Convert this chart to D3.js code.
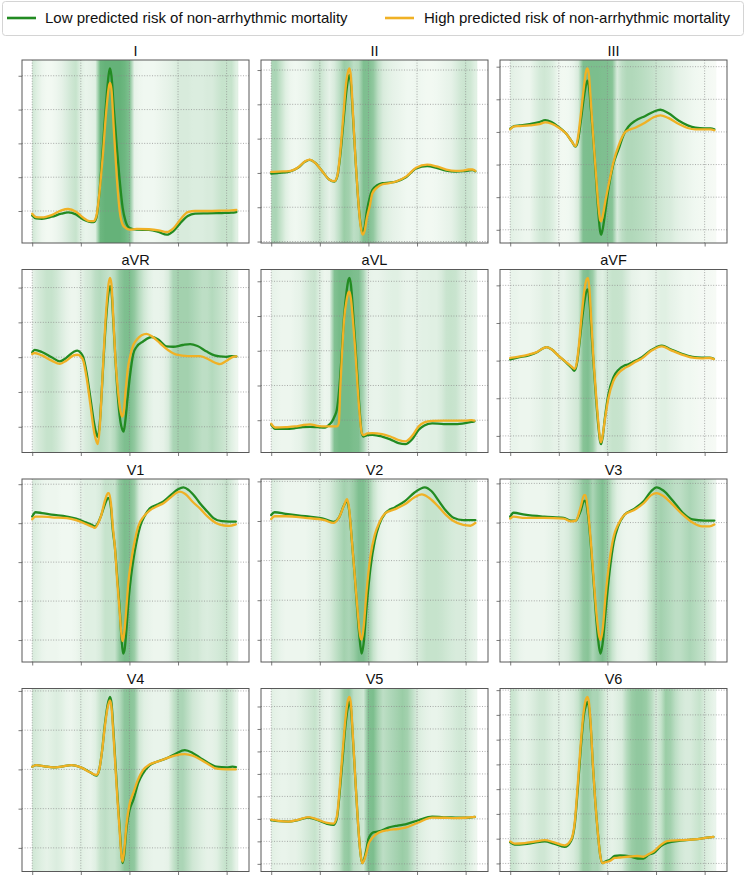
<!DOCTYPE html>
<html><head><meta charset="utf-8">
<script src="https://cdn.jsdelivr.net/npm/d3@7"></script>
<style>body{margin:0;background:#fff}svg{display:block;font-family:"Liberation Sans",Arial,Helvetica,sans-serif}</style>
</head><body><svg id="c" width="746" height="877"></svg>
<script>
const leads = ["I","II","III","aVR","aVL","aVF","V1","V2","V3","V4","V5","V6"];
const seriesNames = ["Low predicted risk of non-arrhythmic mortality","High predicted risk of non-arrhythmic mortality"];
const xTicks = [0,100,200,300,400];
const heatStep = 10;

// ---- Lead I ----
const low_I = [[0,-0.13],[8,-0.22],[20,-0.23],[40,-0.17],[60,-0.08],[74,-0.04],[90,-0.1],[105,-0.25],[118,-0.32],[126,-0.33],[132,-0.2],[138,0.5],[145,1.8],[152,3.2],[158,4.1],[160,4.22],[163,4.0],[168,3.0],[174,1.9],[180,0.9],[186,0.1],[192,-0.3],[200,-0.5],[215,-0.55],[240,-0.56],[260,-0.62],[277,-0.7],[290,-0.6],[305,-0.35],[320,-0.15],[335,-0.08],[360,-0.07],[390,-0.06],[410,-0.05],[420,-0.03]];
const high_I = [[0,-0.08],[8,-0.18],[20,-0.19],[40,-0.12],[60,0.02],[74,0.06],[90,-0.02],[105,-0.2],[118,-0.3],[126,-0.3],[132,-0.15],[138,0.5],[145,1.6],[152,2.9],[158,3.7],[160,3.79],[163,3.6],[168,2.4],[174,1.0],[180,0.0],[186,-0.4],[192,-0.5],[200,-0.55],[215,-0.53],[240,-0.54],[260,-0.57],[277,-0.62],[290,-0.52],[305,-0.25],[320,-0.03],[335,0.0],[360,0.0],[390,0.01],[410,0.02],[420,0.03]];
const heat_I = [0.25,0.15,0.08,0.05,0.05,0.08,0.12,0.18,0.25,0.3,0.15,0.1,0.12,0.15,0.8,0.85,0.85,0.85,0.85,0.8,0.7,0.12,0.08,0.06,0.06,0.06,0.08,0.1,0.12,0.15,0.2,0.2,0.2,0.18,0.18,0.18,0.2,0.2,0.25,0.3,0.3,0.3,0.15];
const yt_I = [0,1,2,3,4];

// ---- Lead II ----
const low_II = [[0,-0.02],[15,0.0],[36,0.03],[55,0.15],[70,0.33],[79,0.38],[90,0.3],[105,0.05],[120,-0.2],[130,-0.25],[136,-0.1],[142,0.5],[148,1.4],[154,2.3],[159,2.8],[161,2.85],[164,2.6],[168,1.7],[173,0.5],[178,-0.6],[183,-1.4],[188,-1.75],[192,-1.6],[197,-1.1],[203,-0.7],[208,-0.5],[218,-0.36],[229,-0.3],[243,-0.28],[257,-0.25],[278,-0.12],[298,0.13],[321,0.2],[340,0.15],[360,0.07],[379,0.04],[395,0.05],[406,0.07],[414,0.08],[420,0.05]];
const high_II = [[0,0.03],[15,0.04],[36,0.05],[55,0.16],[70,0.34],[79,0.39],[90,0.3],[105,0.05],[120,-0.2],[130,-0.24],[136,-0.08],[142,0.6],[148,1.6],[154,2.6],[159,3.0],[161,3.05],[164,2.8],[168,1.8],[173,0.5],[178,-0.6],[183,-1.45],[188,-1.8],[192,-1.7],[197,-1.3],[203,-0.95],[208,-0.6],[218,-0.42],[229,-0.33],[243,-0.3],[257,-0.25],[278,-0.1],[298,0.15],[321,0.24],[340,0.19],[360,0.1],[379,0.06],[395,0.07],[406,0.1],[414,0.1],[420,0.06]];
const heat_II = [0.45,0.45,0.3,0.15,0.08,0.06,0.08,0.1,0.15,0.25,0.3,0.2,0.12,0.2,0.35,0.55,0.5,0.35,0.4,0.7,0.7,0.6,0.35,0.2,0.15,0.12,0.1,0.08,0.06,0.06,0.08,0.06,0.05,0.05,0.06,0.08,0.1,0.12,0.18,0.25,0.28,0.25,0.15];
const yt_II = [-2,-1,0,1,2,3];

// ---- Lead III ----
const low_III = [[0,0.1],[8,0.18],[20,0.2],[40,0.24],[60,0.3],[72,0.36],[85,0.3],[100,0.15],[115,-0.05],[127,-0.3],[134,-0.45],[139,-0.3],[145,0.3],[151,1.0],[156,1.45],[159,1.57],[162,1.4],[166,0.7],[171,-0.22],[176,-1.3],[181,-2.4],[185,-3.05],[187,-3.15],[190,-3.0],[196,-2.4],[202,-1.76],[212,-1.0],[223,-0.53],[233,-0.1],[243,0.16],[257,0.34],[278,0.49],[295,0.62],[309,0.68],[325,0.58],[347,0.34],[365,0.2],[381,0.13],[400,0.11],[412,0.11],[420,0.08]];
const high_III = [[0,0.08],[8,0.17],[20,0.18],[40,0.2],[60,0.24],[72,0.29],[85,0.25],[100,0.13],[115,-0.05],[127,-0.3],[134,-0.44],[139,-0.2],[145,0.5],[151,1.3],[156,1.85],[159,1.95],[162,1.75],[166,0.9],[171,-0.2],[176,-1.2],[181,-2.2],[185,-2.7],[187,-2.74],[190,-2.6],[196,-2.1],[202,-1.65],[212,-0.95],[223,-0.42],[237,0.0],[257,0.13],[278,0.29],[295,0.45],[309,0.51],[325,0.43],[347,0.24],[365,0.12],[381,0.08],[400,0.08],[412,0.08],[420,0.05]];
const heat_III = [0.15,0.12,0.1,0.08,0.08,0.15,0.22,0.25,0.22,0.15,0.06,0.05,0.06,0.1,0.2,0.7,0.72,0.72,0.72,0.7,0.7,0.65,0.2,0.35,0.42,0.42,0.4,0.38,0.35,0.32,0.28,0.25,0.22,0.2,0.15,0.12,0.1,0.08,0.06,0.05,0.05,0.04,0.03];
const yt_III = [-3,-2,-1,0,1,2];

// ---- Lead aVR ----
const low_aVR = [[0,0.14],[5,0.21],[20,0.15],[40,0.0],[57,-0.12],[70,-0.02],[85,0.15],[93,0.19],[100,0.12],[105,0.0],[112,-0.45],[120,-1.2],[128,-1.95],[133,-2.25],[135,-2.29],[139,-1.9],[143,-1.0],[147,0.0],[152,1.1],[157,1.85],[160,2.04],[163,1.9],[167,1.0],[171,0.0],[176,-1.1],[181,-1.8],[186,-2.1],[188,-2.14],[191,-1.9],[196,-1.2],[201,-0.55],[208,0.1],[215,0.3],[228,0.45],[246,0.58],[260,0.5],[276,0.31],[290,0.3],[310,0.35],[325,0.375],[340,0.32],[359,0.16],[375,0.05],[386,0.02],[400,0.01],[410,0.03],[420,0.02]];
const high_aVR = [[0,0.09],[5,0.12],[20,0.05],[40,-0.1],[57,-0.19],[70,-0.1],[85,0.05],[93,0.07],[100,0.02],[105,-0.1],[112,-0.6],[120,-1.4],[128,-2.2],[133,-2.45],[135,-2.5],[139,-2.0],[143,-1.0],[147,0.1],[152,1.3],[157,2.1],[160,2.28],[163,2.1],[167,1.1],[171,0.0],[176,-0.9],[181,-1.5],[185,-1.71],[188,-1.6],[192,-1.0],[197,-0.3],[201,0.0],[208,0.35],[215,0.5],[225,0.63],[235,0.67],[248,0.58],[263,0.4],[280,0.2],[297,0.07],[320,0.03],[345,0.03],[365,-0.08],[380,-0.18],[386,-0.2],[400,-0.1],[412,0.0],[420,0.02]];
const heat_aVR = [0.12,0.2,0.25,0.3,0.3,0.25,0.18,0.12,0.08,0.08,0.12,0.2,0.25,0.35,0.4,0.35,0.3,0.4,0.6,0.7,0.72,0.6,0.4,0.25,0.15,0.1,0.1,0.12,0.2,0.45,0.5,0.5,0.5,0.45,0.4,0.35,0.35,0.4,0.35,0.3,0.25,0.15,0.08];
const yt_aVR = [-2,-1,0,1,2];

// ---- Lead aVL ----
const low_aVL = [[0,-0.13],[8,-0.25],[30,-0.25],[49,-0.23],[65,-0.2],[80,-0.19],[95,-0.2],[111,-0.21],[120,-0.12],[125,-0.04],[130,0.1],[135,0.3],[140,0.9],[145,1.9],[150,3.0],[155,3.7],[159,4.05],[161,4.1],[164,3.9],[168,3.2],[173,2.2],[178,1.1],[183,0.1],[186,-0.35],[190,-0.47],[198,-0.43],[208,-0.42],[228,-0.47],[245,-0.55],[262,-0.66],[276,-0.69],[290,-0.55],[303,-0.28],[315,-0.15],[331,-0.09],[355,-0.11],[379,-0.11],[400,-0.08],[412,-0.05],[418,-0.03]];
const high_aVL = [[0,-0.1],[8,-0.21],[30,-0.2],[49,-0.18],[65,-0.14],[80,-0.12],[95,-0.16],[111,-0.18],[125,-0.18],[135,-0.18],[139,-0.1],[142,0.9],[146,2.0],[150,2.9],[155,3.45],[159,3.68],[161,3.7],[164,3.5],[168,2.9],[173,2.0],[178,0.9],[183,0.0],[186,-0.35],[190,-0.43],[198,-0.38],[208,-0.37],[228,-0.4],[245,-0.47],[262,-0.57],[276,-0.61],[290,-0.45],[303,-0.18],[315,-0.06],[331,-0.02],[355,-0.01],[379,-0.01],[400,-0.01],[412,0.0],[418,-0.01]];
const heat_aVL = [0.12,0.1,0.08,0.08,0.08,0.1,0.12,0.18,0.25,0.28,0.15,0.08,0.1,0.68,0.75,0.75,0.75,0.72,0.7,0.45,0.12,0.1,0.1,0.12,0.14,0.15,0.15,0.12,0.1,0.1,0.12,0.14,0.14,0.15,0.15,0.2,0.28,0.3,0.28,0.2,0.15,0.15,0.1];
const yt_aVL = [0,1,2,3,4];

// ---- Lead aVF ----
const low_aVF = [[0,0.03],[15,0.08],[38,0.14],[55,0.22],[68,0.33],[75,0.36],[85,0.3],[100,0.12],[115,-0.05],[127,-0.2],[132,-0.27],[137,-0.1],[142,0.4],[147,1.0],[153,1.6],[157,1.85],[160,1.89],[163,1.6],[167,0.8],[171,0.0],[176,-0.9],[181,-1.7],[185,-2.15],[187,-2.22],[190,-2.05],[195,-1.5],[202,-0.9],[212,-0.45],[223,-0.24],[235,-0.13],[243,-0.1],[258,0.0],[271,0.09],[290,0.28],[312,0.4],[330,0.3],[353,0.18],[375,0.1],[394,0.08],[410,0.08],[419,0.05]];
const high_aVF = [[0,0.07],[15,0.1],[38,0.16],[55,0.23],[68,0.33],[75,0.36],[85,0.3],[100,0.12],[115,-0.04],[127,-0.17],[132,-0.22],[137,-0.05],[142,0.5],[147,1.2],[153,1.9],[157,2.15],[160,2.2],[163,1.9],[167,1.0],[171,0.1],[176,-0.8],[181,-1.6],[185,-2.1],[187,-2.17],[190,-2.0],[195,-1.55],[202,-1.0],[212,-0.55],[223,-0.33],[235,-0.2],[243,-0.15],[258,-0.03],[271,0.06],[290,0.26],[312,0.38],[330,0.28],[353,0.16],[375,0.08],[394,0.06],[410,0.07],[419,0.04]];
const heat_aVF = [0.1,0.1,0.08,0.08,0.08,0.1,0.12,0.15,0.15,0.12,0.12,0.1,0.15,0.2,0.25,0.65,0.7,0.55,0.2,0.15,0.25,0.3,0.3,0.28,0.2,0.12,0.1,0.08,0.08,0.1,0.12,0.15,0.15,0.12,0.1,0.08,0.06,0.06,0.05,0.04,0.04,0.04,0.03];
const yt_aVF = [-2,-1,0,1,2];

// ---- Lead V1 ----
const low_V1 = [[0,0.17],[7,0.28],[20,0.26],[40,0.22],[71,0.17],[90,0.12],[110,0.02],[125,-0.06],[129,-0.085],[135,0.0],[142,0.2],[150,0.5],[156,0.64],[158,0.64],[162,0.4],[166,-0.2],[170,-0.6],[175,-1.4],[180,-2.2],[184,-3.0],[187,-3.35],[190,-3.25],[194,-2.7],[198,-2.0],[203,-1.4],[208,-0.94],[215,-0.45],[222,-0.085],[232,0.2],[242,0.38],[256,0.47],[270,0.56],[285,0.72],[300,0.87],[311,0.92],[322,0.85],[335,0.68],[345,0.51],[360,0.3],[373,0.13],[390,0.05],[405,0.04],[419,0.04]];
const high_V1 = [[0,0.1],[7,0.17],[20,0.17],[40,0.15],[71,0.13],[90,0.08],[110,-0.02],[125,-0.1],[129,-0.12],[135,-0.02],[142,0.2],[150,0.6],[156,0.77],[158,0.77],[162,0.5],[166,-0.1],[170,-0.6],[175,-1.5],[180,-2.3],[184,-2.9],[186,-3.03],[189,-2.85],[193,-2.3],[198,-1.5],[204,-0.94],[211,-0.45],[218,-0.085],[230,0.18],[242,0.33],[256,0.43],[270,0.51],[285,0.66],[297,0.78],[304,0.81],[315,0.75],[330,0.55],[345,0.38],[360,0.18],[379,0.0],[395,-0.06],[405,-0.07],[419,-0.03]];
const heat_V1 = [0.2,0.15,0.1,0.08,0.08,0.08,0.06,0.06,0.06,0.08,0.12,0.15,0.15,0.15,0.2,0.3,0.3,0.3,0.6,0.72,0.7,0.55,0.2,0.12,0.1,0.08,0.08,0.08,0.1,0.2,0.3,0.3,0.28,0.25,0.25,0.2,0.18,0.2,0.22,0.25,0.3,0.2,0.1];
const yt_V1 = [-3,-2,-1,0,1];

// ---- Lead V2 ----
const low_V2 = [[0,0.15],[7,0.22],[30,0.18],[70,0.12],[110,0.05],[128,-0.02],[140,0.1],[150,0.4],[156,0.5],[160,0.3],[166,-0.5],[172,-1.4],[178,-2.4],[183,-3.1],[186,-3.35],[190,-3.1],[196,-2.2],[204,-1.2],[213,-0.5],[222,-0.1],[235,0.2],[255,0.35],[275,0.5],[295,0.72],[316,0.85],[330,0.75],[345,0.5],[360,0.25],[375,0.08],[395,0.02],[420,0.02]];
const high_V2 = [[0,0.05],[7,0.12],[30,0.12],[70,0.08],[110,0.02],[128,-0.05],[140,0.1],[150,0.4],[156,0.55],[160,0.35],[166,-0.5],[172,-1.4],[178,-2.3],[183,-2.9],[186,-3.0],[190,-2.7],[196,-1.8],[204,-0.9],[213,-0.35],[222,-0.05],[235,0.2],[255,0.3],[275,0.42],[295,0.6],[310,0.67],[325,0.58],[345,0.35],[360,0.15],[375,0.0],[395,-0.1],[410,-0.12],[420,-0.05]];
const heat_V2 = [0.2,0.15,0.1,0.08,0.08,0.08,0.08,0.08,0.1,0.12,0.15,0.15,0.2,0.3,0.4,0.5,0.45,0.55,0.7,0.7,0.55,0.3,0.15,0.1,0.08,0.08,0.08,0.1,0.12,0.15,0.2,0.25,0.3,0.3,0.3,0.28,0.25,0.22,0.2,0.2,0.2,0.15,0.1];
const yt_V2 = [-3,-2,-1,0,1];

// ---- Lead V3 ----
const low_V3 = [[0,0.15],[7,0.25],[30,0.2],[70,0.15],[110,0.12],[125,0.05],[135,0.05],[145,0.3],[152,0.55],[155,0.55],[160,0.2],[166,-0.6],[172,-1.6],[178,-2.6],[183,-3.2],[186,-3.35],[190,-3.1],[196,-2.3],[204,-1.3],[213,-0.5],[222,-0.1],[235,0.2],[255,0.35],[275,0.55],[290,0.8],[301,0.9],[315,0.82],[335,0.55],[355,0.25],[375,0.08],[400,0.05],[420,0.05]];
const high_V3 = [[0,0.1],[7,0.15],[30,0.12],[70,0.12],[110,0.1],[125,0.03],[135,0.05],[145,0.4],[152,0.7],[155,0.7],[160,0.3],[166,-0.5],[172,-1.5],[178,-2.4],[183,-2.9],[186,-3.0],[190,-2.75],[196,-1.9],[204,-1.0],[213,-0.35],[222,-0.05],[235,0.2],[255,0.32],[275,0.5],[290,0.7],[301,0.75],[315,0.68],[335,0.45],[355,0.2],[375,0.0],[395,-0.1],[410,-0.1],[420,-0.05]];
const heat_V3 = [0.2,0.15,0.1,0.08,0.08,0.08,0.08,0.08,0.1,0.12,0.15,0.15,0.2,0.3,0.4,0.6,0.65,0.45,0.6,0.7,0.55,0.3,0.15,0.1,0.08,0.08,0.08,0.1,0.15,0.3,0.45,0.5,0.45,0.4,0.35,0.35,0.4,0.45,0.4,0.35,0.3,0.2,0.1];
const yt_V3 = [-3,-2,-1,0,1];

// ---- Lead V4 ----
const low_V4 = [[0,0.07],[8,0.11],[25,0.08],[43,0.05],[60,0.07],[81,0.11],[100,0.05],[120,-0.08],[132,-0.16],[138,0.0],[144,0.5],[150,1.2],[156,1.7],[160,1.85],[163,1.7],[167,1.0],[171,0.2],[175,-0.6],[180,-1.5],[184,-2.2],[186,-2.39],[189,-2.2],[194,-1.5],[200,-1.05],[208,-0.78],[218,-0.35],[228,-0.1],[242,0.11],[258,0.2],[276,0.28],[295,0.4],[314,0.49],[330,0.42],[345,0.3],[360,0.18],[379,0.07],[400,0.05],[412,0.07],[419,0.06]];
const high_V4 = [[0,0.07],[8,0.11],[25,0.08],[43,0.05],[60,0.07],[81,0.11],[100,0.05],[120,-0.08],[132,-0.14],[138,0.0],[144,0.5],[150,1.15],[156,1.62],[160,1.76],[163,1.6],[167,0.9],[171,0.1],[175,-0.7],[180,-1.6],[184,-2.25],[186,-2.35],[189,-2.1],[194,-1.4],[200,-0.9],[208,-0.6],[218,-0.25],[228,-0.02],[242,0.13],[258,0.2],[276,0.28],[295,0.36],[314,0.39],[330,0.35],[345,0.26],[360,0.15],[379,0.02],[400,0.0],[412,0.0],[419,0.0]];
const heat_V4 = [0.25,0.2,0.15,0.12,0.15,0.18,0.15,0.1,0.08,0.12,0.15,0.12,0.1,0.15,0.3,0.35,0.3,0.3,0.4,0.62,0.65,0.6,0.25,0.15,0.12,0.1,0.1,0.1,0.12,0.3,0.45,0.45,0.35,0.25,0.2,0.15,0.12,0.12,0.15,0.25,0.32,0.25,0.1];
const yt_V4 = [-2,-1,0,1,2];

// ---- Lead V5 ----
const low_V5 = [[0,-0.05],[15,-0.1],[36,-0.12],[55,-0.05],[77,0.06],[95,-0.05],[115,-0.22],[128,-0.27],[135,0.0],[141,1.2],[147,2.7],[153,4.2],[158,5.0],[161,5.21],[164,4.9],[168,3.6],[173,1.8],[178,0.0],[183,-1.4],[187,-1.97],[191,-1.8],[196,-1.35],[200,-0.9],[210,-0.6],[221,-0.56],[241,-0.39],[260,-0.3],[276,-0.24],[303,-0.06],[331,0.1],[355,0.07],[379,0.06],[400,0.05],[419,0.09]];
const high_V5 = [[0,-0.03],[15,-0.09],[36,-0.12],[55,-0.04],[77,0.08],[95,-0.03],[115,-0.18],[128,-0.21],[135,0.1],[141,1.4],[147,3.0],[153,4.5],[158,5.3],[161,5.43],[164,5.1],[168,3.7],[173,1.8],[178,0.0],[183,-1.4],[187,-1.97],[191,-1.85],[196,-1.5],[200,-1.13],[210,-0.8],[221,-0.61],[241,-0.5],[260,-0.45],[276,-0.39],[303,-0.16],[331,0.06],[355,0.05],[379,0.03],[400,0.05],[419,0.09]];
const heat_V5 = [0.15,0.12,0.1,0.1,0.12,0.12,0.15,0.2,0.25,0.3,0.2,0.12,0.1,0.2,0.3,0.55,0.6,0.35,0.3,0.25,0.7,0.72,0.5,0.35,0.4,0.45,0.5,0.55,0.5,0.35,0.2,0.15,0.12,0.1,0.1,0.12,0.15,0.18,0.22,0.25,0.22,0.15,0.08];
const yt_V5 = [-2,-1,0,1,2,3,4,5];

// ---- Lead V6 ----
const low_V6 = [[0,-0.15],[9,-0.24],[30,-0.22],[50,-0.16],[71,-0.11],[90,-0.2],[112,-0.33],[125,-0.1],[133,0.6],[139,2.0],[145,3.6],[151,4.9],[156,5.4],[159,5.52],[162,5.3],[166,4.4],[170,3.0],[175,1.5],[180,0.3],[185,-0.65],[190,-0.99],[196,-0.92],[205,-0.85],[215,-0.7],[226,-0.68],[247,-0.72],[262,-0.8],[274,-0.8],[285,-0.65],[295,-0.58],[310,-0.3],[323,-0.17],[350,-0.08],[385,-0.02],[405,0.04],[418,0.07]];
const high_V6 = [[0,-0.11],[9,-0.2],[30,-0.18],[50,-0.12],[71,-0.06],[90,-0.15],[112,-0.27],[125,-0.05],[133,0.7],[139,2.2],[145,3.8],[151,5.1],[156,5.65],[159,5.73],[162,5.5],[166,4.5],[170,3.0],[175,1.5],[180,0.3],[185,-0.65],[190,-0.99],[196,-0.95],[205,-0.9],[215,-0.78],[226,-0.76],[247,-0.72],[262,-0.7],[274,-0.73],[285,-0.62],[295,-0.52],[310,-0.25],[323,-0.1],[350,-0.06],[385,-0.02],[405,0.04],[418,0.07]];
const heat_V6 = [0.3,0.25,0.15,0.12,0.15,0.2,0.25,0.25,0.2,0.15,0.15,0.12,0.15,0.2,0.3,0.55,0.55,0.45,0.45,0.3,0.15,0.12,0.15,0.2,0.4,0.55,0.6,0.6,0.55,0.4,0.2,0.3,0.55,0.5,0.35,0.25,0.2,0.2,0.25,0.3,0.2,0.15,0.1];
const yt_V6 = [-1,0,1,2,3,4,5,6];

const table = {
  I:[low_I,high_I,heat_I,yt_I], II:[low_II,high_II,heat_II,yt_II], III:[low_III,high_III,heat_III,yt_III],
  aVR:[low_aVR,high_aVR,heat_aVR,yt_aVR], aVL:[low_aVL,high_aVL,heat_aVL,yt_aVL], aVF:[low_aVF,high_aVF,heat_aVF,yt_aVF],
  V1:[low_V1,high_V1,heat_V1,yt_V1], V2:[low_V2,high_V2,heat_V2,yt_V2], V3:[low_V3,high_V3,heat_V3,yt_V3],
  V4:[low_V4,high_V4,heat_V4,yt_V4], V5:[low_V5,high_V5,heat_V5,yt_V5], V6:[low_V6,high_V6,heat_V6,yt_V6]
};

// ---- layout & style ----
const colors = ["#228b22", "#f0b125"];
const W = 227, H = 183, left0 = 22, colStep = 239, top0 = 60, rowStep = 209.5;
const frameColor = "#595959";
const heatColor = d3.scaleLinear().domain([0,1]).range(["#fbfdfa","#4aa562"]).interpolate(d3.interpolateRgb);

const svg = d3.select("#c");
const defs = svg.append("defs");

// legend
const lg = svg.append("g");
lg.append("rect").attr("x",2.5).attr("y",1.5).attr("width",741).attr("height",34).attr("rx",3)
  .attr("fill","#fff").attr("stroke","#d4d4d4").attr("stroke-width",1);
const legPos = [[7,45],[385,424]];
seriesNames.forEach((n,i)=>{
  lg.append("line").attr("x1",legPos[i][0]).attr("x2",legPos[i][0]+29).attr("y1",18).attr("y2",18)
    .attr("stroke",colors[i]).attr("stroke-width",2.6);
  lg.append("text").attr("x",legPos[i][1]).attr("y",18).attr("dy","0.35em")
    .attr("font-size",15).attr("fill","#111").text(n);
});

const x = d3.scaleLinear().domain([-21, 446]).range([0, W]);

leads.forEach((lead, idx) => {
  const [low, high, heat, yt] = table[lead];
  const r = Math.floor(idx/3), c = idx%3;
  const g = svg.append("g").attr("transform",`translate(${left0 + c*colStep},${top0 + r*rowStep})`);
  const all = low.concat(high).map(d=>d[1]);
  const mn = d3.min(all), mx = d3.max(all), pad = (mx-mn)*0.05;
  const y = d3.scaleLinear().domain([mn-pad, mx+pad]).range([H, 0]);

  // heatmap
  const gid = "hg"+idx;
  const grad = defs.append("linearGradient").attr("id",gid).attr("gradientUnits","userSpaceOnUse")
    .attr("x1",x(0)).attr("x2",x((heat.length-1)*heatStep)).attr("y1",0).attr("y2",0);
  heat.forEach((v,i)=>grad.append("stop").attr("offset",i/(heat.length-1)).attr("stop-color",heatColor(v)));
  g.append("rect").attr("x",x(0)).attr("y",0).attr("width",x((heat.length-1)*heatStep+4)-x(0)).attr("height",H)
    .attr("fill",`url(#${gid})`);

  // grid
  g.append("g").selectAll("line").data(xTicks).join("line")
    .attr("x1",d=>x(d)).attr("x2",d=>x(d)).attr("y1",0).attr("y2",H)
    .attr("stroke","#8a8a8a").attr("stroke-width",0.7).attr("stroke-dasharray","1,1.6");
  g.append("g").selectAll("line").data(yt).join("line")
    .attr("x1",0).attr("x2",W).attr("y1",d=>y(d)).attr("y2",d=>y(d))
    .attr("stroke","#8a8a8a").attr("stroke-width",0.7).attr("stroke-dasharray","1,1.6");

  // lines
  const line = d3.line().x(d=>x(d[0])).y(d=>y(d[1])).curve(d3.curveMonotoneX);
  [low, high].forEach((s,i)=>{
    g.append("path").attr("d",line(s)).attr("fill","none").attr("stroke",colors[i])
      .attr("stroke-width",2.3).attr("stroke-linejoin","round").attr("stroke-linecap","round");
  });

  // axes (ticks only, no labels)
  const ax = g.append("g").attr("transform",`translate(0,${H})`)
    .call(d3.axisBottom(x).tickValues(xTicks).tickSize(3.5).tickFormat(""));
  const ay = g.append("g").call(d3.axisLeft(y).tickValues(yt).tickSize(3.5).tickFormat(""));
  [ax, ay].forEach(a=>{ a.select(".domain").remove(); a.selectAll("line").attr("stroke",frameColor).attr("stroke-width",0.8); });

  // frame
  g.append("rect").attr("x",0).attr("y",0).attr("width",W).attr("height",H)
    .attr("fill","none").attr("stroke",frameColor).attr("stroke-width",1);

  // title
  g.append("text").attr("x",W/2).attr("y",-4.5).attr("text-anchor","middle")
    .attr("font-size",14.5).attr("fill","#111").text(lead);
});
</script>
</body></html>
